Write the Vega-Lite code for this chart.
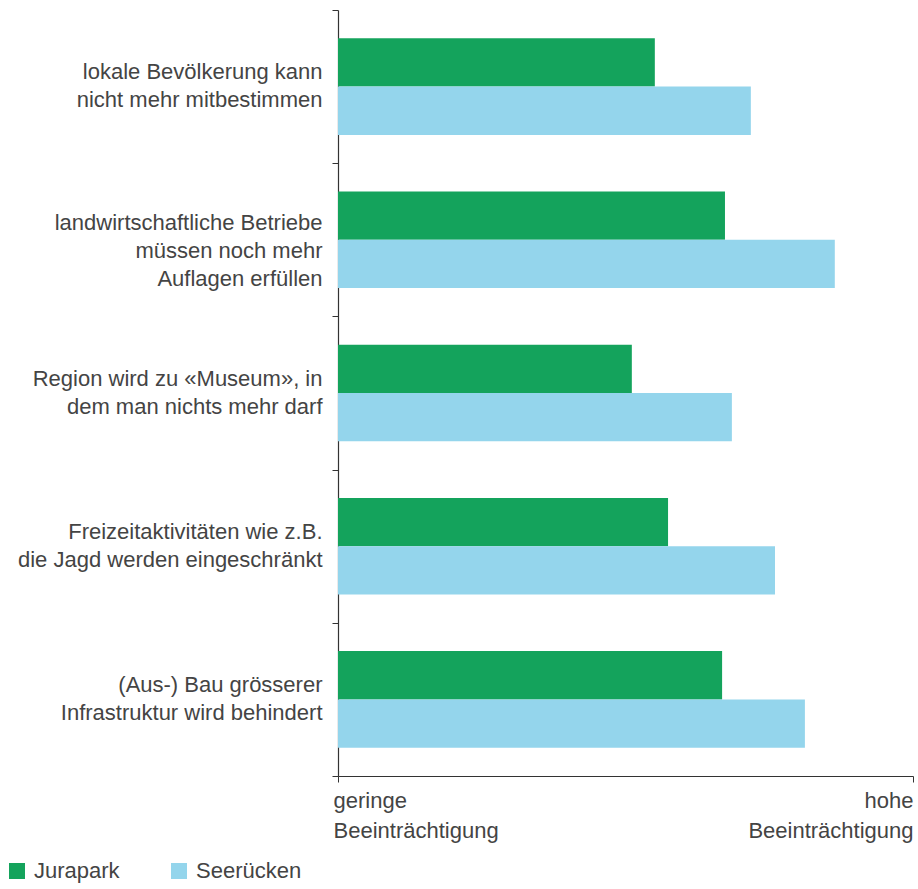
{
  "$schema": "https://vega.github.io/schema/vega-lite/v6.json",
  "autosize": {"type": "none"},
  "width": 575,
  "height": 766,
  "padding": {"left": 338, "top": 10, "right": 5, "bottom": 113},
  "background": "white",
  "config": {
    "view": {"stroke": null},
    "font": "Liberation Sans",
    "axis": {"labelFont": "Liberation Sans", "labelColor": "#444444", "domainColor": "#333333", "tickColor": "#333333"}
  },
  "data": {
    "values": [
      {"item": "lokale Bevölkerung kann|nicht mehr mitbestimmen", "region": "Jurapark", "value": 55.1},
      {"item": "lokale Bevölkerung kann|nicht mehr mitbestimmen", "region": "Seerücken", "value": 71.8},
      {"item": "landwirtschaftliche Betriebe|müssen noch mehr|Auflagen erfüllen", "region": "Jurapark", "value": 67.3},
      {"item": "landwirtschaftliche Betriebe|müssen noch mehr|Auflagen erfüllen", "region": "Seerücken", "value": 86.4},
      {"item": "Region wird zu «Museum», in|dem man nichts mehr darf", "region": "Jurapark", "value": 51.1},
      {"item": "Region wird zu «Museum», in|dem man nichts mehr darf", "region": "Seerücken", "value": 68.5},
      {"item": "Freizeitaktivitäten wie z.B.|die Jagd werden eingeschränkt", "region": "Jurapark", "value": 57.4},
      {"item": "Freizeitaktivitäten wie z.B.|die Jagd werden eingeschränkt", "region": "Seerücken", "value": 76.0},
      {"item": "(Aus-) Bau grösserer|Infrastruktur wird behindert", "region": "Jurapark", "value": 66.8},
      {"item": "(Aus-) Bau grösserer|Infrastruktur wird behindert", "region": "Seerücken", "value": 81.2}
    ]
  },
  "mark": {"type": "bar"},
  "encoding": {
    "y": {
      "field": "item",
      "type": "nominal",
      "sort": null,
      "scale": {"paddingInner": 0, "paddingOuter": 0},
      "axis": {
        "title": null,
        "tickBand": "extent",
        "tickSize": 6,
        "labelPadding": 10,
        "labelFontSize": 22,
        "labelLineHeight": 28,
        "labelLimit": 400,
        "labelExpr": "split(datum.label, '|')",
        "labelOffset": {"condition": {"test": "indexof(datum.label, 'Auflagen') >= 0", "value": -17}, "value": -15},
        "domainWidth": 1.2
      }
    },
    "yOffset": {
      "field": "region",
      "type": "nominal",
      "sort": ["Jurapark", "Seerücken"],
      "scale": {"paddingInner": 0, "paddingOuter": 0.586}
    },
    "x": {
      "field": "value",
      "type": "quantitative",
      "scale": {"domain": [0, 100], "nice": false},
      "axis": {
        "title": null,
        "grid": false,
        "values": [0, 100],
        "tickSize": 6,
        "labelPadding": 8,
        "labelFontSize": 22,
        "labelLineHeight": 30,
        "labelBaseline": "top",
        "labelFlush": false,
        "labelAlign": {"condition": {"test": "datum.value == 0", "value": "left"}, "value": "right"},
        "labelOffset": {"condition": {"test": "datum.value == 0", "value": -5}, "value": 0},
        "labelExpr": "datum.value == 0 ? ['geringe', 'Beeinträchtigung'] : ['hohe', 'Beeinträchtigung']",
        "domainWidth": 1.2
      }
    },
    "color": {
      "field": "region",
      "type": "nominal",
      "sort": ["Jurapark", "Seerücken"],
      "scale": {"domain": ["Jurapark", "Seerücken"], "range": ["#14a35c", "#94d5ec"]},
      "legend": {
        "title": null,
        "orient": "none",
        "direction": "horizontal",
        "legendX": -332,
        "legendY": 850,
        "symbolType": "square",
        "symbolSize": 256,
        "symbolStrokeWidth": 0,
        "symbolOpacity": 1,
        "labelFont": "Liberation Sans",
        "labelFontSize": 22,
        "labelColor": "#444444",
        "labelOffset": 6,
        "columnPadding": 48
      }
    }
  }
}
